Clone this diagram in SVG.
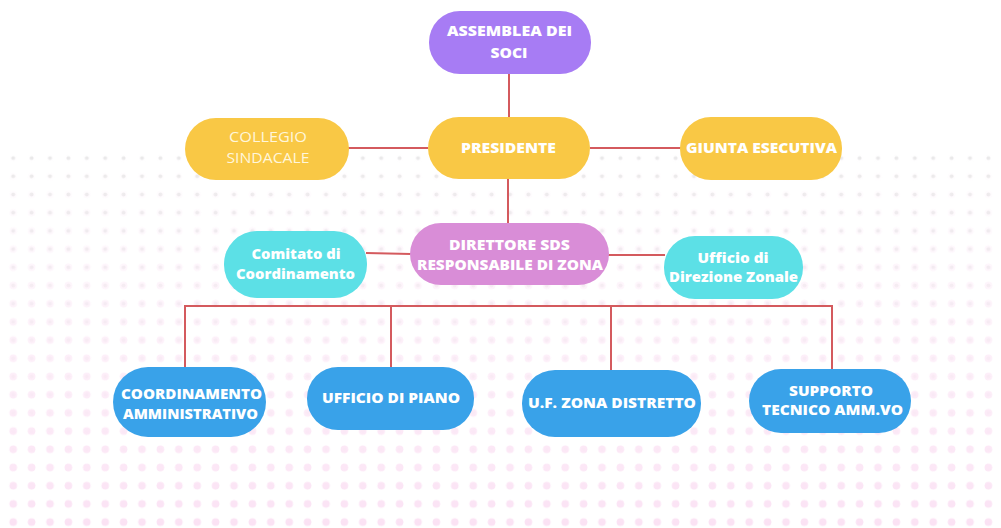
<svg xmlns="http://www.w3.org/2000/svg" width="1001" height="528" viewBox="0 0 1001 528">
  <defs>
    <style>
      .t { font-family: "Open Sans", "Liberation Sans", sans-serif; font-weight: 800; font-size: 14px; fill: #ffffff; text-anchor: middle; }
      .tl { font-family: "Open Sans", "Liberation Sans", sans-serif; font-weight: 400; font-size: 14px; fill: #FFF6DA; text-anchor: middle; }
      .c { stroke: #D45A5E; stroke-width: 2; fill: none; }
      .purple { fill: #A77CF4; }
      .yellow { fill: #F9C845; }
      .orchid { fill: #D98DD7; }
      .cyan { fill: #5CE0E6; }
      .blue { fill: #39A2E9; }
    </style>
    <pattern id="dotsGrey" x="4" y="149" width="18.4" height="18.2" patternUnits="userSpaceOnUse">
      <circle cx="9.2" cy="9.1" r="2" fill="#E4E4E4"/>
    </pattern>
    <pattern id="dotsPink" x="4" y="149" width="18.4" height="18.2" patternUnits="userSpaceOnUse">
      <circle cx="9.2" cy="9.1" r="3.8" fill="#FBE2F4"/>
    </pattern>
    <linearGradient id="gGrey" x1="0" y1="150" x2="0" y2="528" gradientUnits="userSpaceOnUse">
      <stop offset="0" stop-color="#fff" stop-opacity="0.8"/>
      <stop offset="0.5" stop-color="#fff" stop-opacity="0.4"/>
      <stop offset="1" stop-color="#fff" stop-opacity="0"/>
    </linearGradient>
    <linearGradient id="gPink" x1="0" y1="150" x2="0" y2="528" gradientUnits="userSpaceOnUse">
      <stop offset="0" stop-color="#fff" stop-opacity="0"/>
      <stop offset="0.35" stop-color="#fff" stop-opacity="0.35"/>
      <stop offset="1" stop-color="#fff" stop-opacity="1"/>
    </linearGradient>
    <mask id="mGrey" maskUnits="userSpaceOnUse" x="0" y="0" width="1001" height="528">
      <rect x="0" y="150" width="1001" height="378" fill="url(#gGrey)"/>
    </mask>
    <mask id="mPink" maskUnits="userSpaceOnUse" x="0" y="0" width="1001" height="528">
      <rect x="0" y="150" width="1001" height="378" fill="url(#gPink)"/>
    </mask>
  </defs>

  <rect x="0" y="0" width="1001" height="528" fill="#ffffff"/>
  <g id="background">
    <rect x="0" y="150" width="1001" height="378" fill="url(#dotsGrey)" mask="url(#mGrey)"/>
    <rect x="0" y="150" width="1001" height="378" fill="url(#dotsPink)" mask="url(#mPink)"/>
  </g>

  <g id="connectors">
    <line class="c" x1="509" y1="73" x2="509" y2="118"/>
    <line class="c" x1="348" y1="148" x2="428" y2="148"/>
    <line class="c" x1="590" y1="148" x2="681" y2="148"/>
    <line class="c" x1="508" y1="179" x2="508" y2="223"/>
    <line class="c" x1="366" y1="253" x2="411" y2="254"/>
    <line class="c" x1="608" y1="255" x2="665" y2="255"/>
    <polyline class="c" points="184,306 832,306 832,372"/>
    <line class="c" x1="185" y1="306" x2="185" y2="369"/>
    <line class="c" x1="391" y1="306" x2="391" y2="368"/>
    <line class="c" x1="611" y1="306" x2="611" y2="371"/>
  </g>

  <g id="assemblea">
    <rect class="purple" x="429" y="11" width="162" height="63" rx="31"/>
    <text class="t" x="509.5" y="36" textLength="125" lengthAdjust="spacingAndGlyphs">ASSEMBLEA DEI</text>
    <text class="t" x="509" y="58" textLength="37" lengthAdjust="spacingAndGlyphs">SOCI</text>
  </g>

  <g id="collegio">
    <rect class="yellow" x="185" y="118" width="164" height="62" rx="31"/>
    <text class="tl" x="268" y="142" textLength="78" lengthAdjust="spacingAndGlyphs">COLLEGIO</text>
    <text class="tl" x="268" y="163" textLength="83" lengthAdjust="spacingAndGlyphs">SINDACALE</text>
  </g>

  <g id="presidente">
    <rect class="yellow" x="428" y="117" width="162" height="62" rx="31"/>
    <text class="t" x="508.5" y="153" textLength="95" lengthAdjust="spacingAndGlyphs">PRESIDENTE</text>
  </g>

  <g id="giunta">
    <rect class="yellow" x="680" y="117" width="162" height="63" rx="31"/>
    <text class="t" x="761.5" y="153" textLength="151" lengthAdjust="spacingAndGlyphs">GIUNTA ESECUTIVA</text>
  </g>

  <g id="direttore">
    <rect class="orchid" x="410" y="223" width="199" height="62" rx="31"/>
    <text class="t" x="509.5" y="250" textLength="121" lengthAdjust="spacingAndGlyphs">DIRETTORE SDS</text>
    <text class="t" x="510" y="270" textLength="186" lengthAdjust="spacingAndGlyphs">RESPONSABILE DI ZONA</text>
  </g>

  <g id="comitato">
    <rect class="cyan" x="224" y="231" width="143" height="67" rx="33"/>
    <text class="t" x="296" y="259" textLength="89" lengthAdjust="spacingAndGlyphs">Comitato di</text>
    <text class="t" x="295.5" y="279" textLength="119" lengthAdjust="spacingAndGlyphs">Coordinamento</text>
  </g>

  <g id="ufficio-direzione">
    <rect class="cyan" x="664" y="236" width="139" height="63" rx="31"/>
    <text class="t" x="733" y="263" textLength="71" lengthAdjust="spacingAndGlyphs">Ufficio di</text>
    <text class="t" x="733.5" y="282" textLength="129" lengthAdjust="spacingAndGlyphs">Direzione Zonale</text>
  </g>

  <g id="coordinamento-amministrativo">
    <rect class="blue" x="113" y="367" width="153" height="70" rx="35"/>
    <text class="t" x="191.5" y="399" textLength="141" lengthAdjust="spacingAndGlyphs">COORDINAMENTO</text>
    <text class="t" x="190.5" y="419" textLength="135" lengthAdjust="spacingAndGlyphs">AMMINISTRATIVO</text>
  </g>

  <g id="ufficio-piano">
    <rect class="blue" x="307" y="367" width="167" height="63" rx="31"/>
    <text class="t" x="391" y="403" textLength="138" lengthAdjust="spacingAndGlyphs">UFFICIO DI PIANO</text>
  </g>

  <g id="uf-zona">
    <rect class="blue" x="522" y="370" width="179" height="67" rx="33"/>
    <text class="t" x="612" y="408" textLength="168" lengthAdjust="spacingAndGlyphs">U.F. ZONA DISTRETTO</text>
  </g>

  <g id="supporto">
    <rect class="blue" x="749" y="369" width="162" height="64" rx="32"/>
    <text class="t" x="831" y="396" textLength="84" lengthAdjust="spacingAndGlyphs">SUPPORTO</text>
    <text class="t" x="832.5" y="415" textLength="141" lengthAdjust="spacingAndGlyphs">TECNICO AMM.VO</text>
  </g>
</svg>
